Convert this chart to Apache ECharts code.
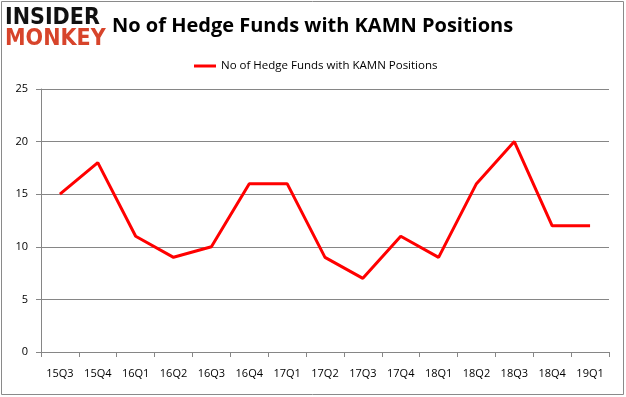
<!DOCTYPE html>
<html>
<head>
    <meta charset="utf-8">
    <style type="text/css">
        *, html, body { margin: 0; padding: 0; }
        html, body { background: #fff; }
        #container { width: 626px; height: 397px; }
    </style>
    <script type="text/javascript" src="https://cdn.jsdelivr.net/npm/echarts@6/dist/echarts.min.js"></script>
</head>
<body>
<div id="container"></div>
<script type="text/javascript">
    let quarters = ["15Q3", "15Q4", "16Q1", "16Q2", "16Q3", "16Q4", "17Q1", "17Q2", "17Q3", "17Q4", "18Q1", "18Q2", "18Q3", "18Q4", "19Q1"];
    let funds = [15, 18, 11, 9, 10, 16, 16, 9, 7, 11, 9, 16, 20, 12, 12];
    let seriesName = "No of Hedge Funds with KAMN Positions";

    let myChart = echarts.init(document.getElementById("container"));
    let font = "'Open Sans', 'DejaVu Sans', sans-serif";
    let logoFont = "bold 23px 'DejaVu Sans Condensed', 'DejaVu Sans', sans-serif";

    let option = {
        animation: false,
        backgroundColor: "#fff",
        title: {
            text: "No of Hedge Funds with KAMN Positions",
            left: 107,
            top: 11,
            textStyle: { fontFamily: font, fontSize: 20, fontWeight: "bold", color: "#000" }
        },
        graphic: [
            { type: "rect", shape: { x: 1.5, y: 1.5, width: 622, height: 393 }, style: { fill: null, stroke: "#8a8a8a", lineWidth: 1 } },
            { type: "text", left: 5, top: 7, style: { text: "INSIDER", font: logoFont, fill: "#111" } },
            { type: "text", left: 5, top: 28, style: { text: "MONKEY", font: logoFont, fill: "#d7442b" } }
        ],
        legend: {
            data: [seriesName],
            top: 55,
            left: 189,
            itemWidth: 22,
            itemHeight: 3,
            itemGap: 6,
            icon: "rect",
            textStyle: { fontFamily: font, fontSize: 11.5, color: "#000" }
        },
        grid: { left: 41, right: 17, top: 89, bottom: 45, containLabel: false },
        xAxis: {
            type: "category",
            data: quarters,
            boundaryGap: true,
            axisLine: { lineStyle: { color: "#868686" } },
            axisTick: { show: true, length: 5, lineStyle: { color: "#868686" } },
            axisLabel: { fontFamily: font, fontSize: 11, color: "#000", margin: 16 }
        },
        yAxis: {
            type: "value",
            min: 0,
            max: 25,
            interval: 5,
            axisLine: { show: true, lineStyle: { color: "#868686" } },
            axisTick: { show: true, length: 5, lineStyle: { color: "#868686" } },
            axisLabel: { fontFamily: font, fontSize: 11, color: "#000", margin: 13 },
            splitLine: { lineStyle: { color: "#868686" } }
        },
        series: [{
            name: seriesName,
            type: "line",
            data: funds,
            symbol: "none",
            lineStyle: { color: "#ff0000", width: 3 },
            itemStyle: { color: "#ff0000" }
        }]
    };
    myChart.setOption(option);
</script>
</body>
</html>
